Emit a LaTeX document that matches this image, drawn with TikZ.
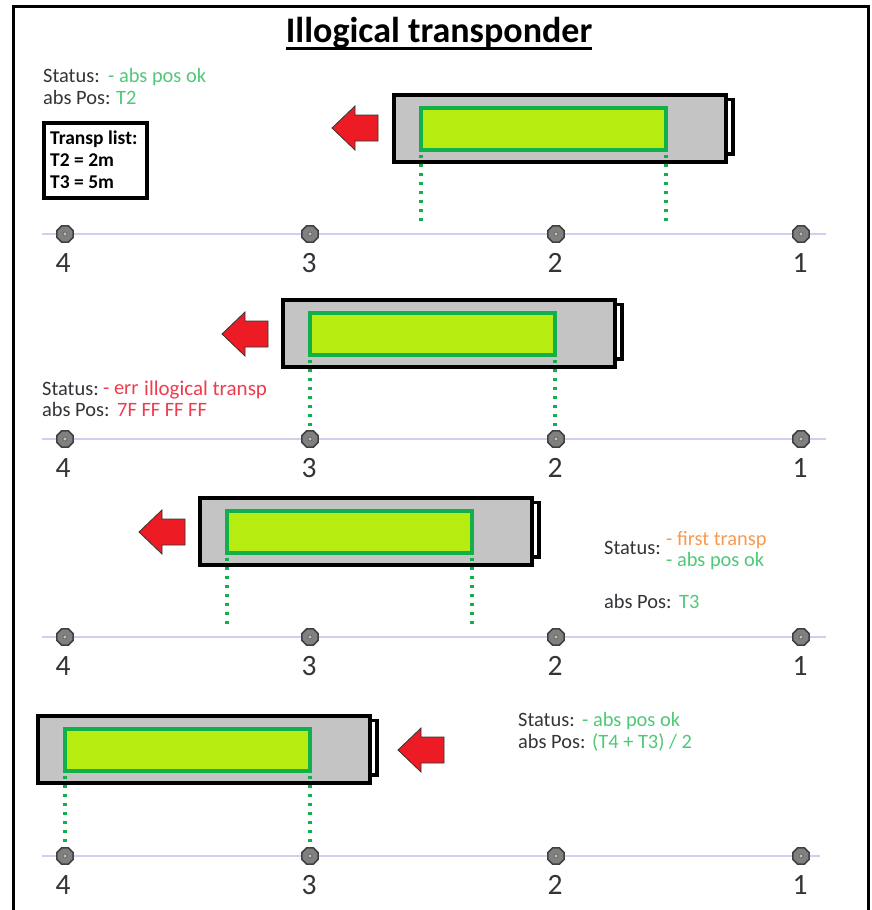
\documentclass[tikz,border=0pt]{standalone}
\usepackage{fontspec}
\setmainfont{Carlito}
\usetikzlibrary{shapes.geometric}
\definecolor{okgreen}{HTML}{4FC878}
\definecolor{errred}{HTML}{EE3B4E}
\definecolor{warnorange}{HTML}{F79A50}
\definecolor{inkgray}{HTML}{333338}
\definecolor{railblue}{HTML}{CFCFF0}
\definecolor{bodygray}{HTML}{C4C4C4}
\definecolor{lime}{HTML}{B7EC10}
\definecolor{limeborder}{HTML}{12B04A}
\definecolor{arrowred}{HTML}{ED1C24}
\newcommand{\fs}[1]{\fontsize{#1}{#1}\selectfont}
\tikzset{
  x=1pt,y=-1pt,
  rail/.style={draw=railblue,line width=1.3},
  sensor/.style={regular polygon,regular polygon sides=8,draw=black!75,fill=black!50,line width=1.6,minimum size=17.5,inner sep=0},
  stud/.style={circle,draw=black!65,fill=black!25,line width=.6,minimum size=4,inner sep=0},
  num/.style={anchor=base,text=inkgray,inner sep=0,font=\fs{29.5}},
  lbl/.style={anchor=base west,text=inkgray,inner sep=0,yshift=-1pt,font=\fs{20.4}},
  ok/.style={lbl,text=okgreen},
  err/.style={lbl,text=errred},
  warn/.style={lbl,text=warnorange},
  listtext/.style={lbl,text=black,font=\fs{19.5}\bfseries},
  trainbody/.style={draw=black,fill=bodygray,line width=4,minimum width=332,minimum height=67,inner sep=0,anchor=north west},
  traincap/.style={draw=black,fill=white,line width=3.4},
  trainlcd/.style={draw=limeborder,fill=lime,line width=3.6,minimum width=245,minimum height=42,inner sep=0,anchor=north west},
  probe/.style={draw=limeborder,line width=3.4,dash pattern=on 3.4 off 5.6},
  move/.style={draw=black!80,fill=arrowred,line width=.8,line join=miter},
}
% name, left x, top y, probe end y
\newcommand{\train}[4]{
  \draw[traincap] (#2+331,#3+6.5) -- (#2+341,#3+6.5) -- (#2+341,#3+61) -- (#2+331,#3+61);
  \node[trainbody] (#1body) at (#2,#3) {};
  \node[trainlcd] (#1lcd) at (#2+27,#3+13) {};
  \coordinate (#1pl) at (#2+29,#4);
  \coordinate (#1pr) at (#2+274,#4);
  \draw[probe] (#2+29,#3+62) -- (#1pl);
  \draw[probe] (#2+274,#3+62) -- (#1pr);
}
% left-pointing arrow: tip x, centre y
\newcommand{\movearrow}[2]{
  \draw[move] (#1,#2) -- (#1+23,#2-22) -- (#1+23,#2-13) -- (#1+46,#2-13) -- (#1+46,#2+13) -- (#1+23,#2+13) -- (#1+23,#2+22) -- cycle;
}
% name, y, right end
\newcommand{\track}[3]{
  \coordinate (#1s) at (42,#2);
  \coordinate (#1e) at (#3,#2);
  \draw[rail] (#1s) -- (#1e);
  \foreach \nx/\nn/\lx in {65/4/63,310/3/309,556/2/555,801/1/800}{
    \node[sensor] (#1n\nn) at (\nx,#2) {};
    \node[stud] at (\nx,#2) {};
    \node[num] at (\lx,#2+38) {\nn};
  }
}
\begin{document}
\begin{tikzpicture}
\useasboundingbox (0,0) rectangle (871,910);
\draw[black,line width=3] (13.5,915) -- (13.5,6.5) -- (868,6.5) -- (868,915);
\node[anchor=base,inner sep=0,text=black,font=\fs{36}\bfseries] (title) at (439,42.5) {Illogical transponder};
\draw[black,line width=3] (286,48) -- (592,48);

% Row 1
\node[lbl] (s1) at (43,81) {Status:};
\node[ok] (s1v) at (108,81) {- abs pos ok};
\node[lbl] (p1) at (43,103) {abs Pos:};
\node[ok] (p1v) at (116,103) {T2};
\node[draw=black,line width=4,minimum width=103,minimum height=75,inner sep=0,anchor=north west] (list) at (41.5,121) {};
\node[listtext] (l1) at (50,143) {Transp list:};
\node[listtext] (l2) at (50,165) {T2 = 2m};
\node[listtext] (l3) at (50,187) {T3 = 5m};
\movearrow{332}{128}
\train{a}{392}{93}{222.4}
\track{ta}{234}{826}

% Row 2
\movearrow{222}{334}
\train{b}{281}{298}{435.4}
\node[lbl] (s2) at (42,394) {Status:};
\node[err] (s2v) at (103,393) {- err};
\node[err,font=\fs{21}] (s2w) at (144,394) {illogical transp};
\node[lbl] (p2) at (42,415) {abs Pos:};
\node[err] (p2v) at (117,415) {7F FF FF FF};
\track{tb}{439}{826}

% Row 3
\movearrow{139}{532}
\train{c}{198}{496}{624.4}
\node[lbl] (s3) at (604,553) {Status:};
\node[warn] (s3v) at (666,544) {- first transp};
\node[ok] (s3w) at (666,565) {- abs pos ok};
\node[lbl] (p3) at (604,607) {abs Pos:};
\node[ok] (p3v) at (679,607) {T3};
\track{tc}{637}{826}

% Row 4
\train{d}{36}{714}{842.4}
\movearrow{398}{750}
\node[lbl] (s4) at (518,725) {Status:};
\node[ok] (s4v) at (582,725) {- abs pos ok};
\node[lbl] (p4) at (518,747) {abs Pos:};
\node[ok] (p4v) at (592,747) {(T4 + T3) / 2};
\track{td}{856}{820}
\end{tikzpicture}
\end{document}
